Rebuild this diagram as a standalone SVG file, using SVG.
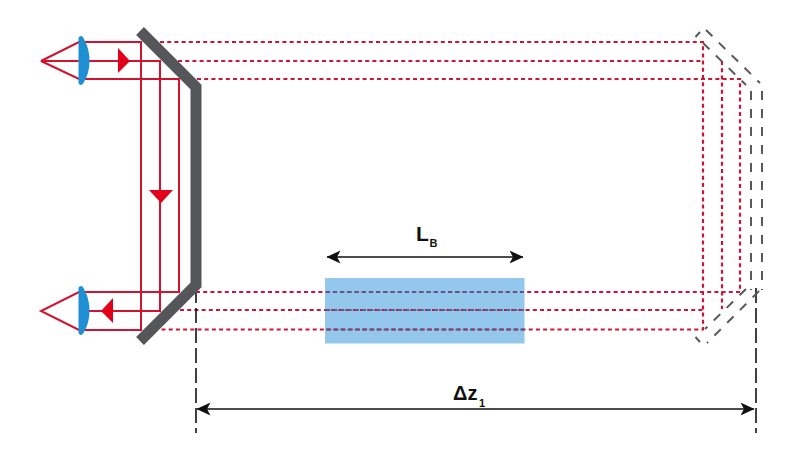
<svg xmlns="http://www.w3.org/2000/svg" width="800" height="453" viewBox="0 0 800 453">
<style>
.ray{fill:none;stroke:#d2122e;stroke-width:2}
.dot{fill:none;stroke:#cf1438;stroke-width:2.200;stroke-dasharray:4 3.200}
.dotb{fill:none;stroke:#5b5a8e;stroke-width:2.200;stroke-dasharray:4 3.200}
.gh{fill:none;stroke:#58595b;stroke-width:2;stroke-dasharray:9 9}
.dim{fill:none;stroke:#111;stroke-width:1.700}
.ext{fill:none;stroke:#111;stroke-width:1.600;stroke-dasharray:15 5}
.head{fill:#e2001a}
.lens{fill:#1f8fd4}
.lab{font-family:"Liberation Sans",Arial,sans-serif;font-weight:700;fill:#111}
</style>
<defs>
<marker id="dimHead" viewBox="0 0 14 14" markerWidth="14" markerHeight="14" refX="13.500" refY="7" orient="auto-start-reverse" markerUnits="userSpaceOnUse">
<path d="M14,7 L0,0.500 L3.500,7 L0,13.500 Z" fill="#111"/>
</marker>
</defs>
<g id="beam-block"><rect x="325" y="278" width="199.500" height="65.500" fill="#93c8ec"/></g>
<g id="connectors">
<path class="ray" d="M41,61 L79,42 H141 V330 H79 L41,311 L79,292 H179 V79 H79 L41,61 H160 V311 H79"/>
<path class="dot" d="M160,42 H703 V329.500 H160"/>
<path class="dot" d="M178,61 H703"/>
<path class="dot" d="M722,61 V309"/>
<path class="dot" d="M197,79 H740 V292 H197"/>
<path class="dot" d="M180,310 H703"/>
<path class="dotb" d="M326,292 H524"/>
<path class="dotb" d="M326,310 H524"/>
<path class="dotb" d="M326,329.500 H524"/>
<path class="dim" d="M327,257 H523" marker-start="url(#dimHead)" marker-end="url(#dimHead)"/>
<path class="dim" d="M197,409 H754" marker-start="url(#dimHead)" marker-end="url(#dimHead)"/>
<path class="ext" d="M196,288 V433"/>
<path class="ext" d="M756,288 V433"/>
</g>
<g id="ghost-mirror">
<path class="gh" style="stroke-dasharray:none" d="M695.500,37 L700,32"/>
<path class="gh" d="M706,30 L760,83"/>
<path class="gh" d="M703,43 L746,85"/>
<path class="gh" d="M762,91 V290"/>
<path class="gh" d="M751,91 V290"/>
<path class="gh" d="M759,291 L707,343"/>
<path class="gh" d="M746,289 L705,329"/>
<path class="gh" style="stroke-dasharray:none" d="M695.500,337 L700,342"/>
</g>
<g id="mirror"><path d="M140,31 L196,87 V285 L140,341" fill="none" stroke="#55565a" stroke-width="11"/></g>
<g id="lens-top"><path class="lens" d="M78.500,38 Q79,36 81,36 Q83,36 84,39 Q90,50 89.500,62 Q89,74 84,82 Q83,85 81,85 Q79,85 78.500,83 Z"/></g>
<g id="lens-bottom"><path class="lens" d="M78.500,288 Q79,286 81,286 Q83,286 84,289 Q90,300 89.500,312 Q89,324 84,332 Q83,335 81,335 Q79,335 78.500,333 Z"/></g>
<g id="arrow-right"><path class="head" d="M118,48 L130,61 L118,73 Z"/></g>
<g id="arrow-down"><path class="head" d="M149,190 H173 L161,203 Z"/></g>
<g id="arrow-left"><path class="head" d="M113,298 L101,311 L113,323 Z"/></g>
<g id="label-lb"><text class="lab" x="416" y="241" font-size="21">L</text><text class="lab" x="429.500" y="247" font-size="11">B</text></g>
<g id="label-dz"><text class="lab" x="453" y="400" font-size="20">Δz</text><text class="lab" x="479" y="407" font-size="11">1</text></g>
</svg>
